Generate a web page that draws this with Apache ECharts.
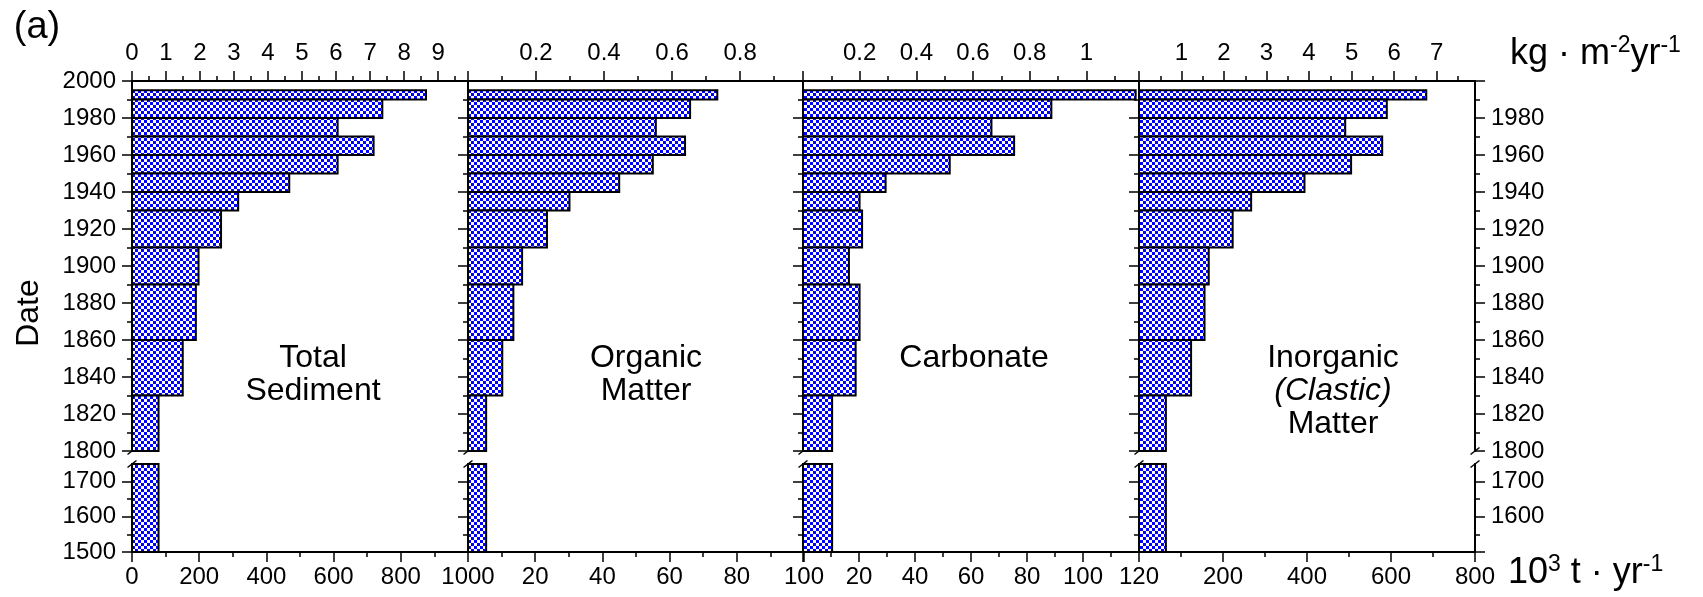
<!DOCTYPE html>
<html>
<head>
<meta charset="utf-8">
<script src="https://cdn.jsdelivr.net/npm/echarts@6/dist/echarts.min.js"></script>
<style>
  html, body { margin: 0; padding: 0; background: #fff; }
  #chart { width: 1703px; height: 597px; }
</style>
</head>
<body>
<div id="chart"></div>
<script>
// Dated core intervals (years AD): each bar spans top -> bottom
const intervalTop    = [1995, 1990, 1980, 1970, 1960, 1950, 1940, 1930, 1910, 1890, 1860, 1830, 1750];
const intervalBottom = [1990, 1980, 1970, 1960, 1950, 1940, 1930, 1910, 1890, 1860, 1830, 1800, 1500];

// Accumulation rates, 10^3 t per year
const totalSediment   = [875, 745, 612, 719, 612, 468, 316, 265, 198, 190, 151, 79, 79];
const organicMatter   = [74.2, 66.1, 55.9, 64.6, 55.0, 45.0, 30.2, 23.5, 16.1, 13.5, 10.2, 5.4, 5.4];
const carbonate       = [118.8, 88.7, 67.3, 75.4, 52.4, 29.5, 20.2, 21.1, 16.4, 20.2, 18.8, 10.4, 10.4];
const inorganicMatter = [684, 590, 491, 579, 505, 394, 267, 223, 166, 156, 124, 64, 64];

const panelNames = ['Total\nSediment', 'Organic\nMatter', 'Carbonate', 'Inorganic\n{i|(Clastic)}\nMatter'];
const panelValues = [totalSediment, organicMatter, carbonate, inorganicMatter];

// Axis extents and tick spacing per panel
const fluxMax   = [1000, 100, 120, 800];   // 10^3 t yr^-1
const fluxStep  = [200, 20, 20, 200];
const arealStep = [1, 0.2, 0.2, 1];        // kg m^-2 yr^-1
const KG_M2_PER_KT = 0.00988;              // basin area ~101 km^2

// Year axis ticks (two segments with a break between 1750 and 1800)
const upperYears      = [1800, 1820, 1840, 1860, 1880, 1900, 1920, 1940, 1960, 1980, 2000];
const upperYearsMinor = [1810, 1830, 1850, 1870, 1890, 1910, 1930, 1950, 1970, 1990];
const lowerYears      = [1500, 1600, 1700];
const lowerYearsMinor = [1550, 1650];
const UPPER_RANGE = [1800, 2000];
const LOWER_RANGE = [1500, 1750];

// ---- layout ----
const PANEL_LEFT = [132, 468, 803, 1139];
const PANEL_W = 336;
const UPPER_TOP = 81, UPPER_H = 370;
const LOWER_TOP = 464, LOWER_H = 88;
const NAME_X = [313, 646, 974, 1333];
const NAME_TOP = 342;

const FONT = "'Liberation Sans', Arial, Helvetica, sans-serif";
const INK = '#000';

function steps(from, to, step) {
  const out = [];
  for (let i = 0; ; i++) {
    const v = +(from + i * step).toFixed(6);
    if (v > to + 1e-9) break;
    out.push(v);
  }
  return out;
}

function checker() {
  const c = document.createElement('canvas');
  c.width = 6; c.height = 6;
  const g = c.getContext('2d');
  g.fillStyle = '#ffffff'; g.fillRect(0, 0, 6, 6);
  g.fillStyle = '#0000ff'; g.fillRect(0, 0, 3, 3); g.fillRect(3, 3, 3, 3);
  return c;
}
const checkerFill = { image: checker(), repeat: 'repeat' };

const lineStyle = { color: INK, width: 2 };
const tickStyle = { color: INK, width: 1.5 };
const labelFont = { color: INK, fontFamily: FONT, fontSize: 24, formatter: v => String(v) };

// one axis carries the line, major ticks and labels; a twin carries the minor ticks
function addAxis(list, base, major, minor, labels, margin) {
  list.push(Object.assign({}, base, {
    axisLine: { show: true, onZero: false, lineStyle },
    axisTick: { show: true, customValues: major, length: 10, lineStyle: tickStyle },
    axisLabel: labels
      ? Object.assign({ show: true, customValues: labels, margin }, labelFont)
      : { show: false },
    splitLine: { show: false }
  }));
  const idx = list.length - 1;
  list.push(Object.assign({}, base, {
    axisLine: { show: false, onZero: false },
    axisTick: { show: true, customValues: minor, length: 5, lineStyle: tickStyle },
    axisLabel: { show: false },
    splitLine: { show: false }
  }));
  return idx;
}

function renderInterval(params, api) {
  const top = api.coord([0, api.value(0)]);
  const bottom = api.coord([api.value(2), api.value(1)]);
  return {
    type: 'rect',
    shape: { x: top[0], y: top[1], width: bottom[0] - top[0], height: bottom[1] - top[1] },
    style: { fill: checkerFill, stroke: INK, lineWidth: 2 }
  };
}

const grids = [], xAxes = [], yAxes = [], series = [];
const refs = [];

panelValues.forEach((values, p) => {
  const left = PANEL_LEFT[p];
  grids.push({ left, top: UPPER_TOP, width: PANEL_W, height: UPPER_H, outerBoundsMode: 'none' });
  const gU = grids.length - 1;
  grids.push({ left, top: LOWER_TOP, width: PANEL_W, height: LOWER_H, outerBoundsMode: 'none' });
  const gL = grids.length - 1;

  // top: areal rate
  const arealMax = fluxMax[p] * KG_M2_PER_KT;
  const aMajor = steps(0, arealMax, arealStep[p]);
  const aMinor = steps(arealStep[p] / 2, arealMax, arealStep[p]);
  addAxis(xAxes, { gridIndex: gU, type: 'value', position: 'top', min: 0, max: arealMax },
    aMajor, aMinor, p === 0 ? aMajor : aMajor.slice(1), 16);
  // hidden flux axis for the upper bars
  xAxes.push({ gridIndex: gU, type: 'value', position: 'bottom', min: 0, max: fluxMax[p], show: false });
  const xU = xAxes.length - 1;

  // bottom: flux
  const fMajor = steps(0, fluxMax[p], fluxStep[p]);
  const fMinor = steps(fluxStep[p] / 2, fluxMax[p], fluxStep[p]);
  const xL = addAxis(xAxes, { gridIndex: gL, type: 'value', position: 'bottom', min: 0, max: fluxMax[p] },
    fMajor, fMinor, p === 0 ? fMajor : fMajor.slice(1), 13);

  // year axes
  const yU = addAxis(yAxes, { gridIndex: gU, type: 'value', position: 'left', min: UPPER_RANGE[0], max: UPPER_RANGE[1] },
    upperYears, upperYearsMinor, p === 0 ? upperYears : null, 16);
  const yL = addAxis(yAxes, { gridIndex: gL, type: 'value', position: 'left', min: LOWER_RANGE[0], max: LOWER_RANGE[1] },
    lowerYears, lowerYearsMinor, p === 0 ? lowerYears : null, 16);
  if (p === panelValues.length - 1) {
    addAxis(yAxes, { gridIndex: gU, type: 'value', position: 'right', min: UPPER_RANGE[0], max: UPPER_RANGE[1] },
      upperYears, upperYearsMinor, upperYears.slice(0, -1), 16);
    addAxis(yAxes, { gridIndex: gL, type: 'value', position: 'right', min: LOWER_RANGE[0], max: LOWER_RANGE[1] },
      lowerYears, lowerYearsMinor, lowerYears.slice(1), 16);
  }

  const rows = intervalTop.map((t, i) => [t, intervalBottom[i], values[i]]);
  const base = { type: 'custom', renderItem: renderInterval, encode: { x: 2, y: [0, 1] }, clip: false, silent: true };
  series.push(Object.assign({}, base, { xAxisIndex: xU, yAxisIndex: yU, data: rows.filter(r => r[1] >= UPPER_RANGE[0]) }));
  series.push(Object.assign({}, base, { xAxisIndex: xL, yAxisIndex: yL, data: rows.filter(r => r[1] < UPPER_RANGE[0]) }));

  refs.push({ xL, yU, yL });
});

const chart = echarts.init(document.getElementById('chart'));
chart.setOption({
  animation: false,
  backgroundColor: '#fff',
  grid: grids,
  xAxis: xAxes,
  yAxis: yAxes,
  series
});

// annotations and axis-break marks, placed from the axes' own pixel mapping
const elements = [];
const textStyle = (extra) => Object.assign({ fill: INK, fontFamily: FONT }, extra);

elements.push({ type: 'text', x: 37, y: 28,
  style: textStyle({ text: '(a)', fontSize: 38, textAlign: 'center', textVerticalAlign: 'middle' }) });
elements.push({ type: 'text', x: 29, y: 313, rotation: Math.PI / 2,
  style: textStyle({ text: 'Date', fontSize: 32, textAlign: 'center', textVerticalAlign: 'middle' }) });

const unitRich = {
  n: { fontFamily: FONT, fontSize: 36, lineHeight: 40, fill: INK },
  s: { fontFamily: FONT, fontSize: 23, lineHeight: 29, verticalAlign: 'top', fill: INK }
};
elements.push({ type: 'text', x: 1510, y: 54,
  style: textStyle({ text: '{n|kg · m}{s|-2}{n|yr}{s|-1}', rich: unitRich, textAlign: 'left', textVerticalAlign: 'middle' }) });
elements.push({ type: 'text', x: 1508, y: 573,
  style: textStyle({ text: '{n|10}{s|3}{n| t · yr}{s|-1}', rich: unitRich, textAlign: 'left', textVerticalAlign: 'middle' }) });

panelNames.forEach((name, p) => {
  elements.push({ type: 'text', x: NAME_X[p], y: NAME_TOP,
    style: textStyle({
      text: name, fontSize: 32, lineHeight: 33, textAlign: 'center', textVerticalAlign: 'top',
      rich: { i: { fontFamily: FONT, fontSize: 32, lineHeight: 33, fontStyle: 'italic', fill: INK } }
    }) });
});

function slash(x, y) {
  return { type: 'line', shape: { x1: x - 4.5, y1: y + 3.5, x2: x + 4.5, y2: y - 3.5 },
    style: { stroke: INK, lineWidth: 1.5 } };
}
refs.forEach((r, p) => {
  const xs = [chart.convertToPixel({ xAxisIndex: r.xL }, 0)];
  if (p === refs.length - 1) xs.push(chart.convertToPixel({ xAxisIndex: r.xL }, fluxMax[p]));
  const yBreakHigh = chart.convertToPixel({ yAxisIndex: r.yU }, UPPER_RANGE[0]);
  const yBreakLow = chart.convertToPixel({ yAxisIndex: r.yL }, LOWER_RANGE[1]);
  xs.forEach(x => {
    elements.push(slash(x, yBreakHigh));
    elements.push(slash(x, yBreakLow));
  });
});

chart.setOption({ graphic: { elements } });
</script>
</body>
</html>
